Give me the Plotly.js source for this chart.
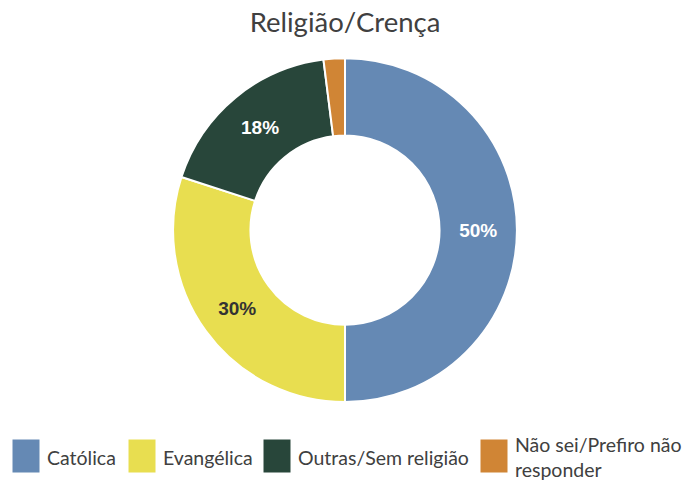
<!DOCTYPE html>
<html><head><meta charset="utf-8">
<script src="https://cdn.plot.ly/plotly-3.0.1.min.js"></script>
<style>body{margin:0;background:#fff}#chart{width:690px;height:485px}</style>
</head><body><div id="chart"></div>
<script>
const categories = ['Católica', 'Evangélica', 'Outras/Sem religião', 'Não sei/Prefiro não<br>responder'];
const values = [50, 30, 18, 2];
const colors = ['#6589B4', '#E8DE50', '#28463A', '#D08535'];
const labelColors = ['#FFFFFF', '#333333', '#FFFFFF', '#FFFFFF'];
const labelTemplates = ['%{percent:.0%}', '%{percent:.0%}', '%{percent:.0%}', ''];

const trace = {
  type: 'pie',
  labels: categories,
  values: values,
  sort: false,
  direction: 'clockwise',
  rotation: 0,
  hole: 0.55,
  marker: {colors: colors, line: {color: '#FFFFFF', width: 2}},
  texttemplate: labelTemplates,
  textposition: 'inside',
  insidetextorientation: 'horizontal',
  textfont: {family: 'Liberation Sans, Arial, sans-serif', size: 19, color: labelColors, weight: 'bold'},
  domain: {x: [0, 1], y: [0.171, 0.880]},
  showlegend: false,
  hoverinfo: 'none'
};

// Legend drawn manually (large square swatches)
const legendX = [12, 128, 263, 480];
const shapes = [];
const annotations = [];
categories.forEach((c, i) => {
  shapes.push({type: 'rect', xref: 'paper', yref: 'paper',
    x0: legendX[i] / 690, x1: (legendX[i] + 28) / 690,
    y0: 1 - 473 / 485, y1: 1 - 439 / 485,
    fillcolor: colors[i], line: {color: '#FFFFFF', width: 1}});
  annotations.push({xref: 'paper', yref: 'paper', x: (legendX[i] + 33) / 690, y: 1 - 457 / 485,
    xanchor: 'left', yanchor: 'middle', text: c, showarrow: false, align: 'left',
    font: {family: 'Lato, Open Sans, sans-serif', size: 19.5, color: '#404040'}});
});

const layout = {
  width: 690, height: 485,
  margin: {l: 0, r: 0, t: 0, b: 0},
  paper_bgcolor: '#FFFFFF',
  title: {text: 'Religião/Crença', x: 0.5, xanchor: 'center', y: 1 - 22 / 485, yanchor: 'middle',
    font: {family: 'Lato, Open Sans, sans-serif', size: 27.5, color: '#404040'}},
  shapes: shapes,
  annotations: annotations
};
Plotly.newPlot('chart', [trace], layout, {displayModeBar: false, staticPlot: true});
</script></body></html>
